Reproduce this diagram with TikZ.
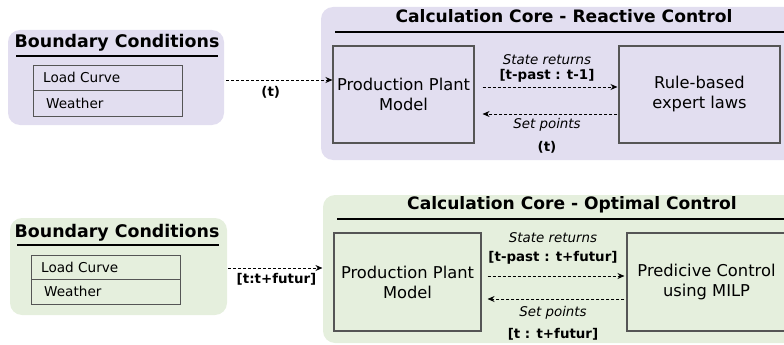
\documentclass[tikz,border=0pt]{standalone}
\usepackage{fontspec}
\setmainfont{DejaVu Sans}
\usetikzlibrary{arrows.meta}
\definecolor{lav}{HTML}{E2DEF0}
\definecolor{grn}{HTML}{E5EFDD}
\definecolor{bord}{HTML}{555555}
\tikzset{
  x=1pt, y=-1pt,
  panel/.style={rounded corners=12pt, draw=none},
  inbox/.style={draw=bord, line width=1.1pt, inner sep=0pt, align=center, font=\fontsize{16.3}{20}\selectfont},
  cell/.style={draw=bord, line width=0.8pt, inner sep=0pt},
  celltxt/.style={anchor=west, inner sep=0pt, font=\fontsize{13.6}{15}\selectfont},
  ttl/.style={font=\fontsize{17.4}{19}\bfseries\selectfont, inner sep=0pt},
  cttl/.style={font=\fontsize{17.1}{19}\bfseries\selectfont, inner sep=0pt},
  uline/.style={line width=1.6pt},
  flow/.style={densely dashed, line width=0.9pt, -{Stealth[length=7pt,width=6pt]}},
  itl/.style={font=\fontsize{13.4}{15}\itshape\selectfont, inner sep=0pt},
  bld/.style={font=\fontsize{13.4}{15}\bfseries\selectfont, inner sep=0pt}
}
\begin{document}
\begin{tikzpicture}
\useasboundingbox (0,0) rectangle (784,345);
\clip (0,0) rectangle (784,345);
% ---------- top: reactive ----------
\fill[lav, panel] (8,30) rectangle (224,125);
\node[ttl] (bc1) at (117,43) {Boundary Conditions};
\draw[uline] (16,56) -- (218,56);
\node[cell, minimum width=149pt, minimum height=25.5pt] (lc1) at (107.5,77.8) {};
\node[cell, minimum width=149pt, minimum height=25.5pt] (we1) at (107.5,103.3) {};
\node[celltxt] at (43,77.8) {Load Curve};
\node[celltxt] at (46,103.3) {Weather};

\fill[lav, panel] (321,7) rectangle (800,160);
\node[cttl] (cc1) at (564,16) {Calculation Core - Reactive Control};
\draw[uline] (335,32) -- (800,32);
\node[inbox, minimum width=141pt, minimum height=97pt] (pp1) at (403.5,94.5) {Production Plant\\Model};
\node[inbox, minimum width=161pt, minimum height=97pt] (rb1) at (699.5,94.5) {Rule-based\\expert laws};

\coordinate (bcout1) at (226,80);
\coordinate (yA) at (0,87);
\coordinate (yB) at (0,114);
\draw[flow] (bcout1) -- (pp1.west |- bcout1) node[pos=0.42, below=6pt, bld] {(t)};
\draw[flow, shorten <=8pt, shorten >=1pt] (pp1.east |- yA) -- (rb1.west |- yA);
\draw[flow, shorten <=1pt, shorten >=8pt] (rb1.west |- yB) -- (pp1.east |- yB);
\node[itl] at (547,60) {State returns};
\node[bld] at (547,76) {[t-past : t-1]};
\node[itl] at (547,125) {Set points};
\node[bld] at (547,147) {(t)};

% ---------- bottom: optimal ----------
\fill[grn, panel] (10,218) rectangle (227,315);
\node[ttl] (bc2) at (117,233) {Boundary Conditions};
\draw[uline] (17,245) -- (219,245);
\node[cell, minimum width=149pt, minimum height=24.5pt] (lc2) at (105.5,267.3) {};
\node[cell, minimum width=149pt, minimum height=24.5pt] (we2) at (105.5,291.8) {};
\node[celltxt] at (41,267.3) {Load Curve};
\node[celltxt] at (44,291.8) {Weather};

\fill[grn, panel] (323,195) rectangle (800,343);
\node[cttl] (cc2) at (572,205) {Calculation Core - Optimal Control};
\draw[uline] (337,219) -- (800,219);
\node[inbox, minimum width=147pt, minimum height=98pt] (pp2) at (407.5,282) {Production Plant\\Model};
\node[inbox, minimum width=159pt, minimum height=98pt] (mp2) at (706.5,282) {Predicive Control\\using MILP};

\coordinate (bcout2) at (228,268);
\coordinate (yC) at (0,276);
\coordinate (yD) at (0,299);
\draw[flow, shorten >=11pt] (bcout2) -- (pp2.west |- bcout2) node[pos=0.46, below=5pt, bld] {[t:t+futur]};
\draw[flow, shorten <=6pt, shorten >=2pt] (pp2.east |- yC) -- (mp2.west |- yC);
\draw[flow, shorten <=2pt, shorten >=6pt] (mp2.west |- yD) -- (pp2.east |- yD);
\node[itl] at (553,238) {State returns};
\node[bld] at (553,258) {[t-past : t+futur]};
\node[itl] at (553,313) {Set points};
\node[bld] at (553,334) {[t : t+futur]};
\end{tikzpicture}
\end{document}
